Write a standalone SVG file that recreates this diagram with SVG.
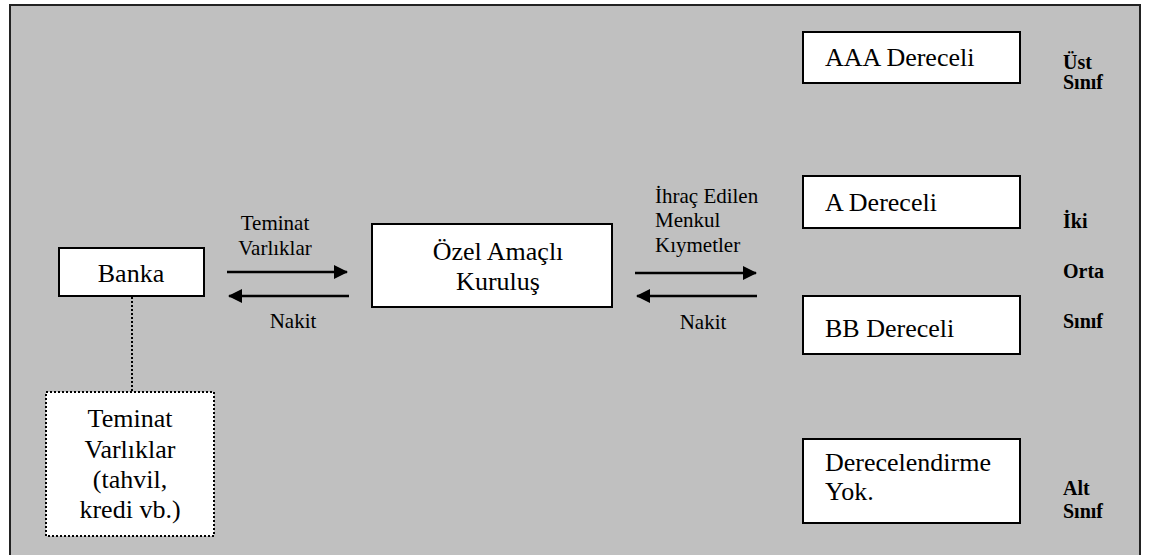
<svg xmlns="http://www.w3.org/2000/svg" width="1149" height="555" viewBox="0 0 1149 555">
<style>
.box{fill:#fff;stroke:#000;stroke-width:2}
.dot{fill:#fff;stroke:#000;stroke-width:2;stroke-dasharray:2 2}
text{font-family:'Liberation Serif','Times New Roman',serif;fill:#000}
.t{font-size:26px}
.s{font-size:21px}
.b{font-size:20px;font-weight:bold}
.c{text-anchor:middle}
.ln{stroke:#000;stroke-width:2.5;fill:none}
</style>
<defs>
<marker id="ah" markerWidth="14" markerHeight="14" viewBox="0 0 14 14" refX="13" refY="7" orient="auto" markerUnits="userSpaceOnUse">
<path d="M0,0 L14,7 L0,14 Z" fill="#000"/>
</marker>
</defs>
<rect x="10" y="5" width="1130" height="570" fill="#c0c0c0" stroke="#222" stroke-width="2"/>
<g id="connectors">
<line class="ln" x1="227" y1="272" x2="347" y2="272" marker-end="url(#ah)"/>
<line class="ln" x1="349" y1="296" x2="229" y2="296" marker-end="url(#ah)"/>
<line class="ln" x1="635" y1="273" x2="756" y2="273" marker-end="url(#ah)"/>
<line class="ln" x1="757" y1="296" x2="637" y2="296" marker-end="url(#ah)"/>
<line x1="132" y1="297" x2="132" y2="392" stroke="#000" stroke-width="2" stroke-dasharray="2 2"/>
<text class="s c" x="275" y="230">Teminat</text>
<text class="s c" x="275" y="255">Varlıklar</text>
<text class="s c" x="293" y="328">Nakit</text>
<text class="s" x="655" y="203">İhraç Edilen</text>
<text class="s" x="655" y="227">Menkul</text>
<text class="s" x="655" y="252">Kıymetler</text>
<text class="s c" x="703" y="329">Nakit</text>
</g>
<g id="banka">
<rect class="box" x="59" y="248" width="145" height="48"/>
<text class="t c" x="131" y="282">Banka</text>
</g>
<g id="teminat">
<rect class="dot" x="46" y="392" width="168" height="144"/>
<text class="t c" x="130" y="427">Teminat</text>
<text class="t c" x="130" y="458">Varlıklar</text>
<text class="t c" x="130" y="488">(tahvil,</text>
<text class="t c" x="130" y="518">kredi vb.)</text>
</g>
<g id="ozel">
<rect class="box" x="372" y="224" width="240" height="83"/>
<text class="t c" x="498" y="260">Özel Amaçlı</text>
<text class="t c" x="498" y="290">Kuruluş</text>
</g>
<g id="aaa">
<rect class="box" x="803" y="32" width="217" height="51"/>
<text class="t" x="825" y="66">AAA Dereceli</text>
</g>
<g id="a">
<rect class="box" x="803" y="176" width="217" height="52"/>
<text class="t" x="825" y="211">A Dereceli</text>
</g>
<g id="bb">
<rect class="box" x="803" y="296" width="217" height="58"/>
<text class="t" x="825" y="337">BB Dereceli</text>
</g>
<g id="yok">
<rect class="box" x="803" y="439" width="217" height="84"/>
<text class="t" x="825" y="471">Derecelendirme</text>
<text class="t" x="825" y="500">Yok.</text>
</g>
<g id="classes">
<text class="b" x="1063" y="69">Üst</text>
<text class="b" x="1063" y="89">Sınıf</text>
<text class="b" x="1063" y="228">İki</text>
<text class="b" x="1063" y="278">Orta</text>
<text class="b" x="1063" y="328">Sınıf</text>
<text class="b" x="1063" y="495">Alt</text>
<text class="b" x="1063" y="518">Sınıf</text>
</g>
</svg>
